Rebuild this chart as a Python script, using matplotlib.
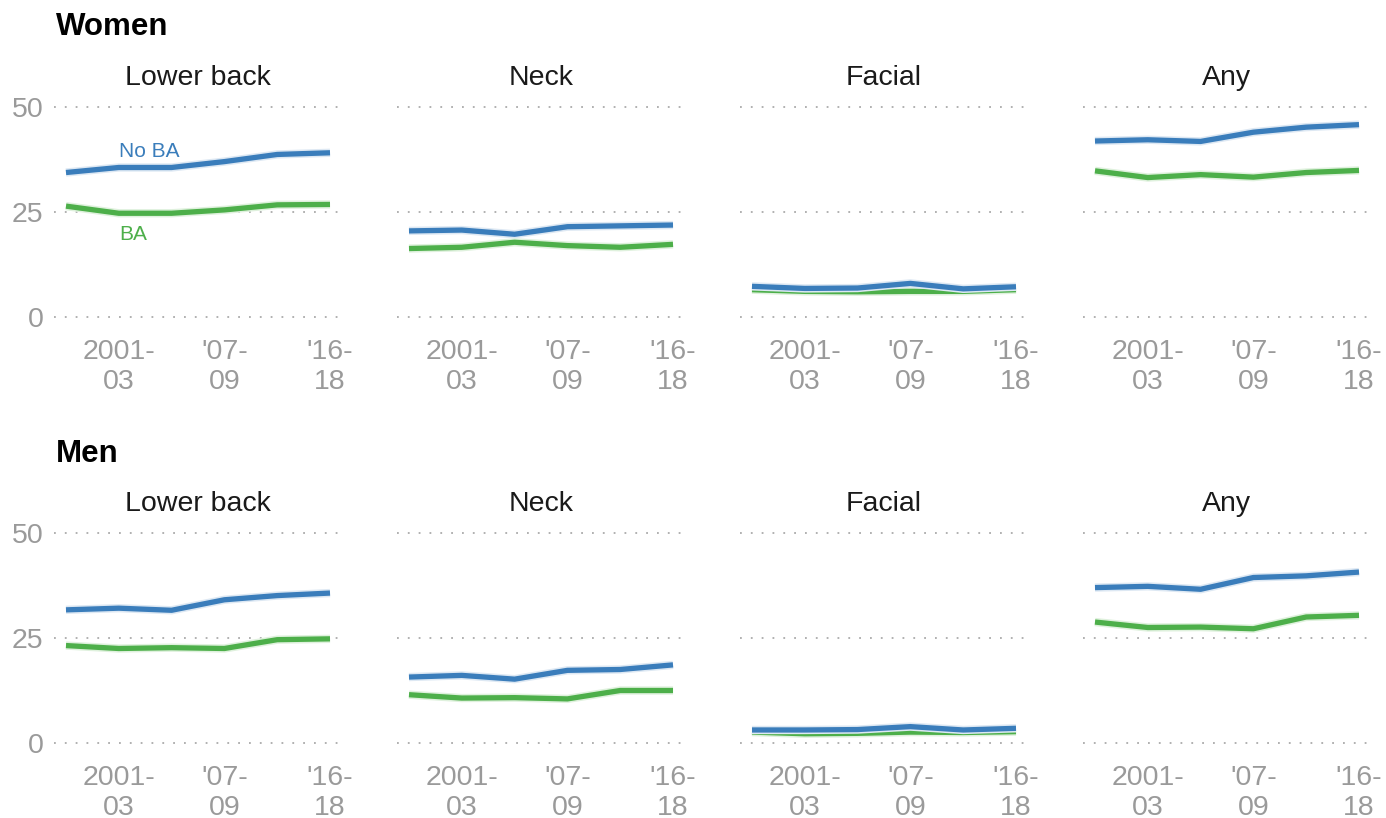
import matplotlib.pyplot as plt
import matplotlib.patheffects as pe
import numpy as np

plt.rcParams['font.family'] = ['Liberation Sans', 'DejaVu Sans']

periods = ['1998-\n2000', '2001-\n03', "'04-\n06", "'07-\n09", "'10-\n12", "'16-\n18"]
shown_ticks = [1, 3, 5]
panels = ['Lower back', 'Neck', 'Facial', 'Any']
groups = ['Women', 'Men']

# percent reporting pain, by period
women_noba = {
    'Lower back': [34.4, 35.6, 35.6, 37.0, 38.7, 39.1],
    'Neck':       [20.5, 20.7, 19.7, 21.5, 21.7, 21.9],
    'Facial':     [7.3, 6.8, 6.9, 8.0, 6.7, 7.2],
    'Any':        [41.9, 42.2, 41.8, 44.0, 45.2, 45.8],
}
women_ba = {
    'Lower back': [26.4, 24.7, 24.7, 25.5, 26.7, 26.8],
    'Neck':       [16.3, 16.6, 17.8, 17.0, 16.6, 17.3],
    'Facial':     [6.5, 6.1, 6.0, 6.1, 6.1, 6.5],
    'Any':        [34.8, 33.2, 33.9, 33.3, 34.4, 34.9],
}
men_noba = {
    'Lower back': [31.7, 32.1, 31.6, 34.1, 35.1, 35.7],
    'Neck':       [15.7, 16.1, 15.2, 17.3, 17.5, 18.6],
    'Facial':     [3.1, 3.1, 3.2, 3.9, 3.1, 3.5],
    'Any':        [37.0, 37.3, 36.6, 39.4, 39.8, 40.7],
}
men_ba = {
    'Lower back': [23.2, 22.5, 22.7, 22.5, 24.6, 24.8],
    'Neck':       [11.5, 10.7, 10.8, 10.5, 12.5, 12.5],
    'Facial':     [2.6, 2.2, 2.3, 2.6, 2.5, 2.7],
    'Any':        [28.8, 27.5, 27.6, 27.2, 30.0, 30.4],
}
data = {'Women': (women_noba, women_ba), 'Men': (men_noba, men_ba)}

blue = '#3a7dbb'
green = '#4daf4a'
grey = '#9a9a9a'

W, H = 1386, 818
fig = plt.figure(figsize=(W / 100, H / 100), dpi=100)

# pixel layout
col_left = [54, 397, 740, 1083]
ax_w = 288
row_top = {'Women': 102.8, 'Men': 528.8}
ax_h = 218.4
head_y = {'Women': 35, 'Men': 462}

x = np.arange(len(periods))

for g in groups:
    noba, ba = data[g]
    fig.text(56 / W, 1 - head_y[g] / H, g, fontsize=22.5, fontweight='bold',
             va='baseline', ha='left', color='black')
    for j, p in enumerate(panels):
        ax = fig.add_axes([col_left[j] / W, 1 - (row_top[g] + ax_h) / H,
                           ax_w / W, ax_h / H])
        for yv in [0, 25, 50]:
            ax.axhline(yv, color='#aaaaaa', lw=1.3, ls=(0, (1, 5)), zorder=1)
        ax.plot(x, ba[p], color=green, lw=3.8, solid_capstyle='butt', zorder=3,
                path_effects=[pe.Stroke(linewidth=6, foreground='#dff1dd'), pe.Normal()])
        ax.plot(x, noba[p], color=blue, lw=3.8, solid_capstyle='butt', zorder=4,
                path_effects=[pe.Stroke(linewidth=6, foreground='#dde8f3'), pe.Normal()])
        ax.set_xlim(-0.227, 5.227)
        ax.set_ylim(-1, 51)
        ax.set_xticks(shown_ticks)
        ax.set_xticklabels([periods[k] for k in shown_ticks])
        ax.tick_params(axis='x', length=0, pad=12.5, labelsize=20.5, labelcolor=grey)
        if j == 0:
            ax.set_yticks([0, 25, 50])
            ax.tick_params(axis='y', length=0, pad=7.5, labelsize=20.5, labelcolor=grey)
        else:
            ax.set_yticks([])
        for s in ax.spines.values():
            s.set_visible(False)
        ax.set_title(p, fontsize=20.5, color='#1a1a1a', pad=13)
        if g == 'Women' and j == 0:
            ax.text(1.0, 38.1, 'No BA', color=blue, fontsize=15, ha='left', va='baseline')
            ax.text(1.0, 18.3, 'BA', color=green, fontsize=15, ha='left', va='baseline')

fig.savefig('out.png', dpi=100)
